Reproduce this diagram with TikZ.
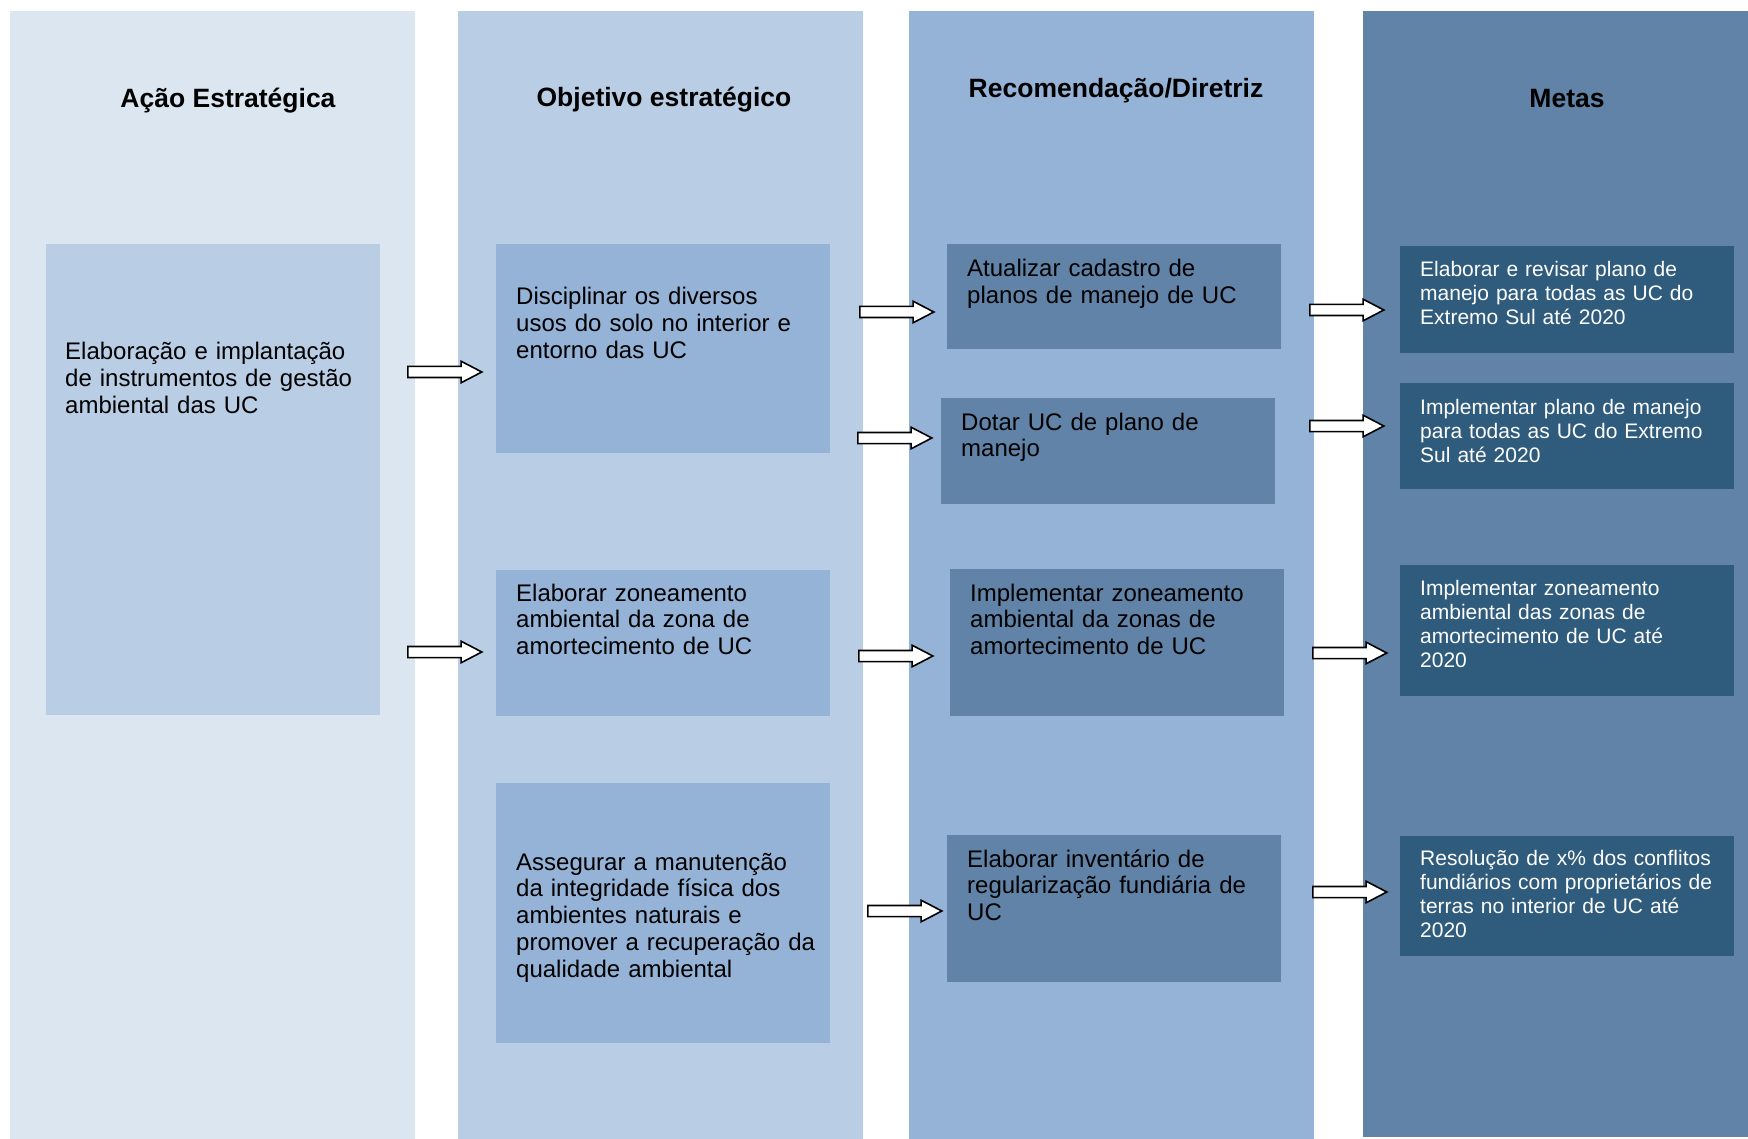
\documentclass[tikz,border=0pt]{standalone}
\usepackage{fontspec}
\setmainfont{Liberation Sans}
\usetikzlibrary{shapes.arrows}
\definecolor{colA}{HTML}{DCE6F1}
\definecolor{colB}{HTML}{B9CDE5}
\definecolor{colC}{HTML}{95B3D7}
\definecolor{colD}{HTML}{6183A7}
\definecolor{colE}{HTML}{2F5B7C}
\tikzset{
  colbg/.style={draw=none, inner sep=0pt, anchor=north west},
  boxbg/.style={draw=none, inner sep=0pt, anchor=north west},
  title/.style={font=\fontsize{26.5}{30}\selectfont\bfseries, inner sep=0pt, anchor=base},
  txt/.style={font=\fontsize{24}{26.8}\selectfont, inner sep=0pt, anchor=base west, align=left, text width=300pt},
  txtw/.style={font=\fontsize{21}{24}\selectfont, text=white, inner sep=0pt, anchor=base west, align=left, text width=310pt},
  barrow/.style={single arrow, draw=black, fill=white, line width=1.6pt,
    minimum height=74pt, minimum width=0pt, inner sep=4.75pt,
    single arrow head extend=5.25pt, single arrow tip angle=55, anchor=tail}
}
\begin{document}
\begin{tikzpicture}[x=1pt,y=-1pt]
\useasboundingbox[fill=white] (0,0) rectangle (1748,1139);
% columns
\node[colbg, fill=colA, minimum width=405pt, minimum height=1128pt] (col1) at (10,11) {};
\node[colbg, fill=colB, minimum width=405pt, minimum height=1128pt] (col2) at (458,11) {};
\node[colbg, fill=colC, minimum width=405pt, minimum height=1128pt] (col3) at (909,11) {};
\node[colbg, fill=colD, minimum width=385pt, minimum height=1126pt] (col4) at (1363,11) {};
% titles
\node[title] (t1) at (228,107.5) {Ação Estratégica};
\node[title] (t2) at (664,106.7) {Objetivo estratégico};
\node[title] (t3) at (1116,97.7) {Recomendação/Diretriz};
\node[title] (t4) at (1567,107.3) {Metas};
% column 1 box
\node[boxbg, fill=colB, minimum width=334pt, minimum height=471pt] (k1) at (46,244) {};
\node[txt] (k1t) at (65,360) {Elaboração e implantação\\de instrumentos de gestão\\ambiental das UC};
% column 2 boxes
\node[boxbg, fill=colC, minimum width=334pt, minimum height=209pt] (b1) at (496,244) {};
\node[txt] (b1t) at (516,305) {Disciplinar os diversos\\usos do solo no interior e\\entorno das UC};
\node[boxbg, fill=colC, minimum width=334pt, minimum height=146pt] (b2) at (496,570) {};
\node[txt] (b2t) at (516,601) {Elaborar zoneamento\\ambiental da zona de\\amortecimento de UC};
\node[boxbg, fill=colC, minimum width=334pt, minimum height=260pt] (b3) at (496,783) {};
\node[txt] (b3t) at (516,870) {Assegurar a manutenção\\da integridade física dos\\ambientes naturais e\\promover a recuperação da\\qualidade ambiental};
% column 3 boxes
\node[boxbg, fill=colD, minimum width=334pt, minimum height=105pt] (c1) at (947,244) {};
\node[txt] (c1t) at (967,277) {Atualizar cadastro de\\planos de manejo de UC};
\node[boxbg, fill=colD, minimum width=334pt, minimum height=106pt] (c2) at (941,398) {};
\node[txt] (c2t) at (961,430) {Dotar UC de plano de\\manejo};
\node[boxbg, fill=colD, minimum width=334pt, minimum height=147pt] (c3) at (950,569) {};
\node[txt] (c3t) at (970,601) {Implementar zoneamento\\ambiental da zonas de\\amortecimento de UC};
\node[boxbg, fill=colD, minimum width=334pt, minimum height=147pt] (c4) at (947,835) {};
\node[txt] (c4t) at (967,867) {Elaborar inventário de\\regularização fundiária de\\UC};
% column 4 boxes
\node[boxbg, fill=colE, minimum width=334pt, minimum height=107pt] (d1) at (1400,246) {};
\node[txtw] (d1t) at (1420,277) {Elaborar e revisar plano de\\manejo para todas as UC do\\Extremo Sul até 2020};
\node[boxbg, fill=colE, minimum width=334pt, minimum height=106pt] (d2) at (1400,383) {};
\node[txtw] (d2t) at (1420,414) {Implementar plano de manejo\\para todas as UC do Extremo\\Sul até 2020};
\node[boxbg, fill=colE, minimum width=334pt, minimum height=131pt] (d3) at (1400,565) {};
\node[txtw] (d3t) at (1420,595) {Implementar zoneamento\\ambiental das zonas de\\amortecimento de UC até\\2020};
\node[boxbg, fill=colE, minimum width=334pt, minimum height=120pt] (d4) at (1400,836) {};
\node[txtw] (d4t) at (1420,865) {Resolução de x\% dos conflitos\\fundiários com proprietários de\\terras no interior de UC até\\2020};
% block arrows
\node[barrow] (a1) at (407,372) {};
\node[barrow] (a2) at (407,652) {};
\node[barrow] (a3) at (859,312) {};
\node[barrow] (a4) at (857,438) {};
\node[barrow] (a5) at (858,656) {};
\node[barrow] (a6) at (867,911) {};
\node[barrow] (a7) at (1309,310) {};
\node[barrow] (a8) at (1309,426) {};
\node[barrow] (a9) at (1312,653) {};
\node[barrow] (a10) at (1312,892) {};
\end{tikzpicture}
\end{document}
